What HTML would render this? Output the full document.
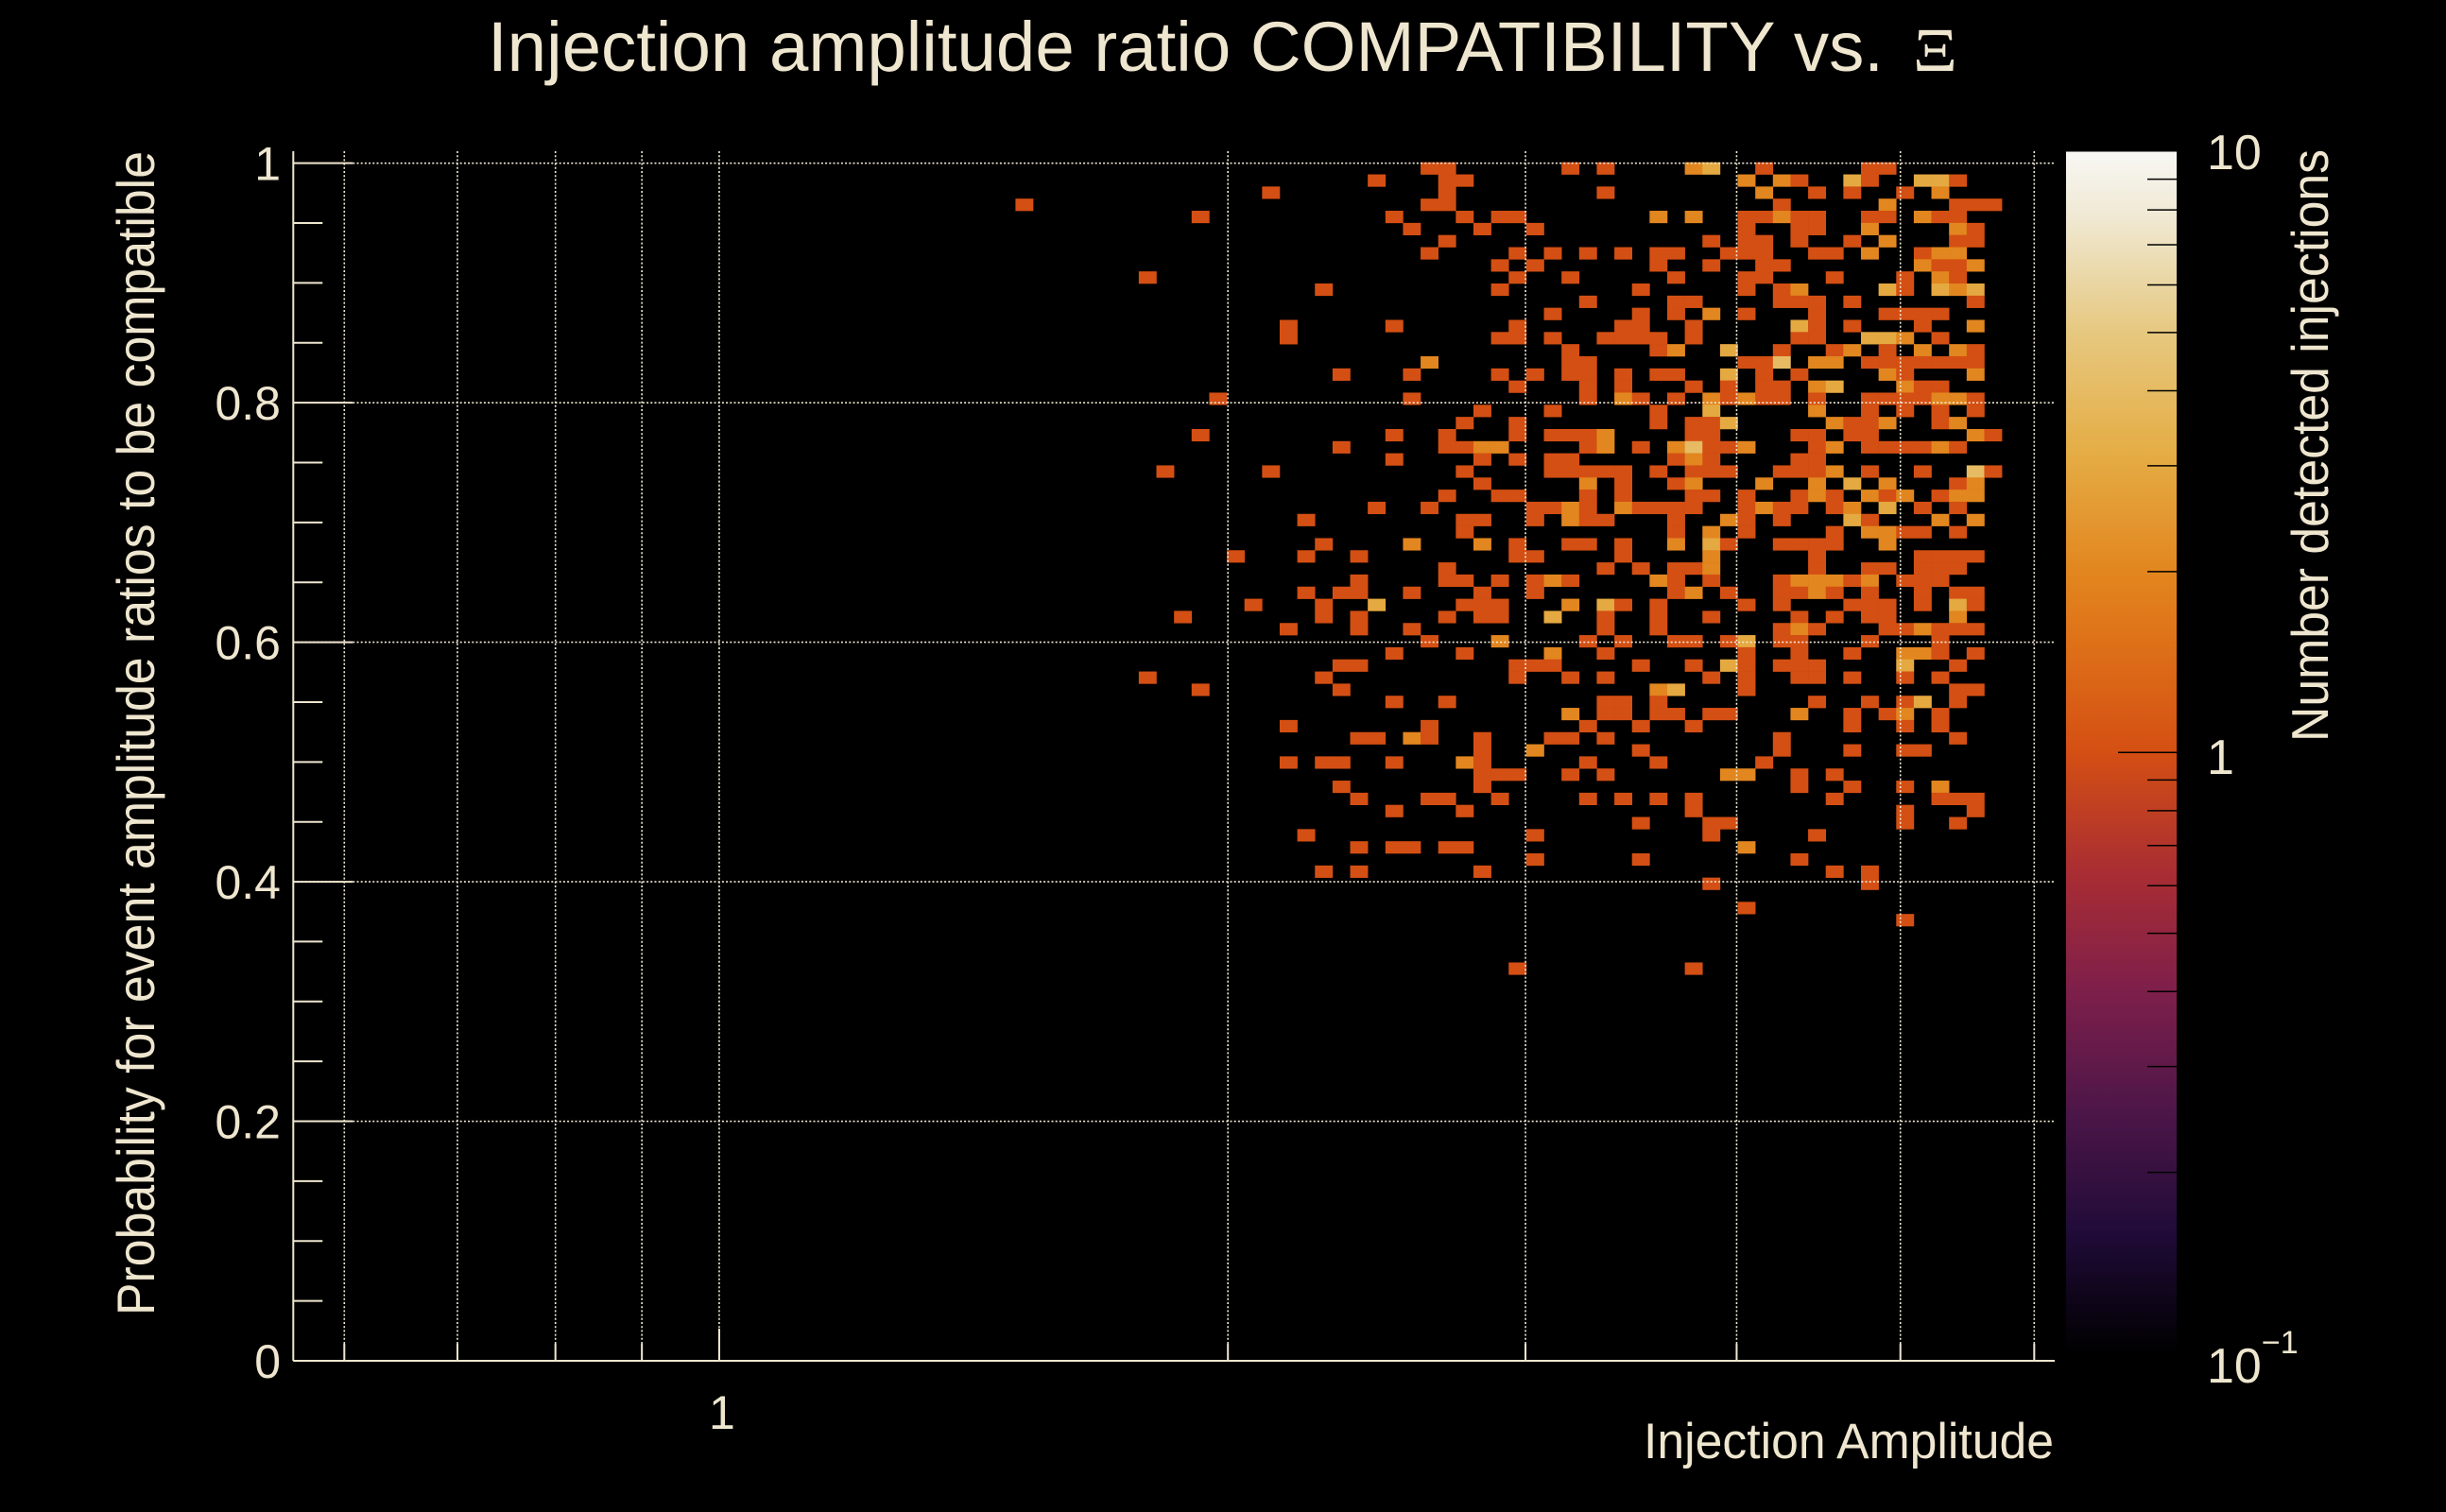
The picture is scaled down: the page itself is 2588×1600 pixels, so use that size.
<!DOCTYPE html>
<html><head><meta charset="utf-8"><title>Injection amplitude ratio COMPATIBILITY</title>
<style>
html,body{margin:0;padding:0;background:#000;}
svg{display:block;}
text{font-family:"Liberation Sans",sans-serif;fill:#efe6cf;}
</style></head>
<body>
<svg id="chart" xmlns="http://www.w3.org/2000/svg" width="2588" height="1600" viewBox="0 0 2588 1600">
<defs>
<linearGradient id="pal" x1="0" y1="1" x2="0" y2="0">
<stop offset="0" stop-color="#000000"/>
<stop offset="0.1" stop-color="#200b38"/>
<stop offset="0.2" stop-color="#4c1648"/>
<stop offset="0.3" stop-color="#7d1f4b"/>
<stop offset="0.4" stop-color="#a92d33"/>
<stop offset="0.5" stop-color="#d44f13"/>
<stop offset="0.6" stop-color="#df7419"/>
<stop offset="0.65" stop-color="#e2861f"/>
<stop offset="0.75" stop-color="#e5ad45"/>
<stop offset="0.85" stop-color="#e6c880"/>
<stop offset="0.95" stop-color="#f0ead6"/>
<stop offset="1" stop-color="#f8f7f4"/>
</linearGradient>
</defs>
<rect x="0" y="0" width="2588" height="1600" fill="#000"/>
<g id="cells"></g>
<g id="grid"></g>
<g id="axes"></g>
<g id="cbar"></g>

<text x="516" y="75" font-size="74" textLength="1477" lengthAdjust="spacingAndGlyphs">Injection amplitude ratio COMPATIBILITY vs.</text>
<text x="2024" y="75" font-size="66" style="font-family:'Liberation Serif',serif" textLength="47" lengthAdjust="spacingAndGlyphs">Ξ</text>
<text x="2173" y="1543" font-size="53" text-anchor="end" textLength="434" lengthAdjust="spacingAndGlyphs">Injection Amplitude</text>
<text transform="translate(163,160) rotate(-90)" x="0" y="0" font-size="56" text-anchor="end" textLength="1232" lengthAdjust="spacingAndGlyphs">Probability for event amplitude ratios to be compatible</text>
<text transform="translate(2463,158) rotate(-90)" x="0" y="0" font-size="55" text-anchor="end" textLength="627" lengthAdjust="spacingAndGlyphs">Number detected injections</text>
</svg>
<script>
// ---- data: one entry per row of bins (row 0 = top, probability ~1.0) ----
const binCol = [
[64,65,72,74,79,80,83,89,90],
[61,65,66,82,84,85,88,89,92,93,94],
[55,65,74,83,86,88,91,93],
[41,64,65,84,90,94,95,96],
[51,62,66,68,69,77,79,82,83,84,85,86,89,90,92,93,94],
[63,67,70,82,85,86,89,94,95],
[65,80,82,83,85,88,90,94,95],
[64,69,71,73,75,77,78,81,82,83,86,87,89,92,93,94],
[68,70,77,80,83,84,92,93,94,95],
[48,69,72,78,82,83,87,91,93,94],
[58,68,76,82,84,85,90,91,93,94,95],
[73,78,79,84,85,86,88,95],
[71,76,78,80,82,86,90,91,92,93],
[56,62,69,75,76,79,85,86,88,92,95],
[56,68,69,71,74,75,76,77,79,85,86,89,90,91,93],
[72,77,78,81,84,87,88,90,92,94,95],
[64,72,73,82,83,84,86,87,89,90,91,92,93,94,95],
[59,63,68,70,72,73,75,77,78,81,83,85,90,91,95],
[69,73,75,79,81,83,84,86,87,91,92,93],
[52,63,73,75,76,78,80,81,82,83,84,86,89,90,91,92,93,94,95],
[67,71,77,80,86,89,91,93,95],
[66,69,77,79,80,81,87,88,89,90,93,94],
[51,62,65,69,71,72,73,74,79,80,85,86,88,89,95,96],
[59,65,66,67,68,73,74,76,78,79,80,81,82,86,87,89,90,91,92,93,94],
[62,67,69,71,72,78,79,80,85,86],
[49,55,66,71,72,73,74,75,77,79,80,81,84,85,86,87,89,92,95,96],
[67,73,75,78,79,83,86,88,90,94,95],
[65,68,69,73,75,79,80,82,85,86,87,89,90,91,93,94,95],
[61,64,70,71,72,73,75,76,77,78,79,82,83,84,85,87,88,90,92,94],
[57,66,67,70,72,73,74,78,81,82,84,88,89,93,95],
[66,78,80,82,87,89,90,91,92,94],
[58,63,67,69,72,73,75,78,80,81,84,85,86,87,90],
[53,57,60,69,70,75,80,86,92,93,94,95],
[65,74,76,78,79,80,86,89,90,92,93,94],
[60,65,66,68,70,71,72,77,78,80,84,85,86,87,88,89,91,92,93],
[57,59,60,63,67,70,78,79,81,84,85,86,87,89,92,94,95],
[54,58,61,66,67,68,72,74,75,77,82,84,88,89,90,92,94,95],
[50,58,60,65,67,68,71,74,77,80,85,87,89,90,94],
[56,60,63,74,77,84,85,86,90,91,92,93,94,95],
[64,68,73,75,78,79,81,82,84,85,89,93],
[62,66,71,74,82,85,88,91,92,93,95],
[59,60,69,70,71,76,79,81,82,84,85,86,91,94],
[48,58,69,72,74,80,82,85,86,88,91,93],
[51,59,77,78,82,94,95],
[62,65,74,75,77,86,89,91,92,94],
[72,74,75,77,78,80,81,85,88,90,91,93],
[56,64,73,76,79,88,91,93],
[60,61,63,64,67,71,72,74,84,94],
[67,70,76,84,88,91,92],
[56,58,59,62,66,67,73,77,83],
[67,68,69,72,74,81,82,85,87],
[59,67,85,88,91,93],
[60,64,65,68,73,75,77,79,87,93,94,95],
[62,66,79,91,95],
[76,80,81,91,94],
[57,70,80,86],
[60,62,63,65,66,82],
[70,76,85],
[58,60,67,87,89],
[80,89],
[],
[82],
[91],
[],[],[],
[69,79]
];
const binCount = [
[1,1,1,1,2,3,1,1,1],
[1,1,1,2,2,1,3,1,3,3,1],
[1,1,1,2,1,1,1,2],
[1,1,1,1,2,1,1,1],
[1,1,1,1,1,2,2,1,1,2,1,1,1,1,2,1,1],
[1,1,1,1,1,1,2,2,1],
[1,1,1,1,1,1,2,1,1],
[1,1,1,1,1,1,1,1,1,1,1,1,2,1,2,2],
[1,1,1,1,1,1,2,1,1,2],
[1,1,1,1,1,1,1,1,2,1],
[1,1,1,1,1,2,3,1,3,2,3],
[1,1,1,1,1,1,1,1],
[1,1,1,2,1,1,1,1,1,1],
[1,1,1,1,1,1,3,1,1,1,2],
[1,1,1,1,1,1,1,1,1,1,1,3,3,2,1],
[1,1,2,3,1,1,2,1,2,2,1],
[2,1,1,1,1,4,2,2,1,1,1,1,1,1,1],
[1,1,1,1,1,1,1,1,1,3,1,1,2,1,2],
[1,1,1,1,1,1,1,2,3,2,1,1],
[1,1,1,2,1,1,2,1,2,1,1,1,1,1,1,1,2,2,1],
[1,1,1,3,2,1,1,1,1],
[1,1,1,1,1,3,2,1,1,2,1,2],
[1,1,1,1,1,1,1,2,1,1,1,1,1,1,2,1],
[1,1,1,2,2,1,2,1,2,4,1,1,2,1,2,1,1,1,1,2,1],
[1,1,1,1,1,1,2,1,1,1],
[1,1,1,1,1,1,1,1,1,1,1,1,1,1,1,2,1,1,4,1],
[1,2,1,1,2,2,2,3,2,1,2],
[1,1,1,1,1,1,1,1,1,2,1,2,1,2,1,2,2],
[1,1,1,1,2,1,2,1,1,1,1,1,2,1,1,1,2,3,1,1],
[1,1,1,1,2,1,1,1,2,1,1,3,1,2,2],
[1,1,2,1,1,2,2,1,1,1],
[1,2,2,1,1,1,1,2,3,1,1,1,1,1,2],
[1,1,1,1,1,1,2,1,1,1,1,1],
[1,1,1,1,1,2,1,1,1,1,1,1],
[1,1,1,1,1,2,1,2,1,1,1,2,2,2,1,2,1,1,1],
[1,1,1,1,1,1,1,2,1,1,1,2,1,1,1,1,1],
[1,1,3,1,1,1,2,3,1,1,1,1,1,1,1,1,3,1],
[1,1,1,1,1,1,3,1,1,1,1,1,1,1,2],
[1,1,1,1,1,1,2,1,1,1,2,1,1,1],
[1,2,1,1,1,1,1,3,1,1,1,1],
[1,1,2,1,1,1,1,2,2,1,1],
[1,1,1,1,1,1,1,3,1,1,1,1,3,1],
[1,1,1,1,1,1,1,1,1,1,1,1],
[1,1,2,3,1,1,1],
[1,1,1,1,1,1,1,1,3,1],
[2,1,1,1,1,1,1,2,1,1,2,1],
[1,1,1,1,1,1,1,1],
[1,1,2,1,1,1,1,1,1,1],
[1,2,1,1,1,1,1],
[1,1,1,1,2,1,1,1,1],
[1,1,1,1,1,2,2,1,1],
[1,1,1,1,1,2],
[1,1,1,1,1,1,1,1,1,1,1,1],
[1,1,1,1,1],
[1,1,1,1,1],
[1,1,1,1],
[1,1,1,1,1,2],
[1,1,1],
[1,1,1,1,1],
[1,1],
[],
[1],
[1],
[],[],[],
[1,1]
];
const xGridValues = [0.6,0.7,0.8,0.9,1,2,3,4,5,6];
const xTickLabels = ["1"];
const xTickLabelValues = [1];
const yTickValues = [0,0.2,0.4,0.6,0.8,1];
const yTickLabels = ["0","0.2","0.4","0.6","0.8","1"];
const zMajorValues = [0.1,1,10];
const zMinorValues = [0.2,0.3,0.4,0.5,0.6,0.7,0.8,0.9,2,3,4,5,6,7,8,9];

// ---- axis functions ----
const X_MIN = 0.5597, X_MAX = 6.17, N_XBINS = 100;
const PX_L = 310.3, PX_R = 2174;
const PY_B = 1440, PY_T = 160, Y_TOP_VAL = 1.01;
const ROW0_TOP = 171.7, ROW_H = 12.83;
const CB_X = 2186, CB_W = 117, CB_TOP = 160.5, CB_BOT = 1432;
function xScale(v){ return PX_L + (Math.log10(v)-Math.log10(X_MIN))/(Math.log10(X_MAX)-Math.log10(X_MIN))*(PX_R-PX_L); }
function xBinEdge(i){ return PX_L + i*(PX_R-PX_L)/N_XBINS; }
function yScale(v){ return PY_B - v/Y_TOP_VAL*(PY_B-PY_T); }
function rowTop(r){ return ROW0_TOP + r*ROW_H; }
function zScale(v){ return CB_BOT - (Math.log10(v)+1)/2*(CB_BOT-CB_TOP); }

const palStops = [[0,[0,0,0]],[0.1,[32,11,56]],[0.2,[76,22,72]],[0.3,[125,31,75]],[0.4,[169,45,51]],[0.5,[212,79,19]],[0.6,[223,116,25]],[0.65,[226,134,31]],[0.75,[229,173,69]],[0.85,[230,200,128]],[0.95,[240,234,214]],[1,[248,247,244]]];
function palette(c){
  const t = Math.max(0,Math.min(1,(Math.log10(c)+1)/2));
  for(let k=1;k<palStops.length;k++){
    if(t<=palStops[k][0]){
      const a=palStops[k-1],b=palStops[k],f=(t-a[0])/(b[0]-a[0]);
      const col=a[1].map((q,j)=>Math.round(q+(b[1][j]-q)*f));
      return 'rgb('+col.join(',')+')';
    }
  }
  return 'rgb(248,247,244)';
}

const NS='http://www.w3.org/2000/svg';
function mk(tag,attrs,parent){ const e=document.createElementNS(NS,tag); for(const k in attrs) e.setAttribute(k,attrs[k]); parent.appendChild(e); return e; }

// cells
const gCells=document.getElementById('cells');
binCol.forEach((cols,r)=>{
  cols.forEach((c,k)=>{
    const x0=xBinEdge(c), x1=xBinEdge(c+1);
    const el=mk('rect',{x:x0.toFixed(2),y:rowTop(r).toFixed(2),width:(x1-x0+0.3).toFixed(2),height:(ROW_H+0.3).toFixed(2),fill:palette(binCount[r][k])},gCells);
    
    
  });
});

// grid
const gGrid=document.getElementById('grid');
xGridValues.forEach(v=>{
  const x=xScale(v);
  const el=mk('line',{x1:x,x2:x,y1:PY_T,y2:PY_B,stroke:'#f2ead6','stroke-width':1.6,'stroke-dasharray':'2 2.2'},gGrid);
  
  
});
yTickValues.forEach(v=>{
  if(v===0) return;
  const y=yScale(v);
  const el=mk('line',{x1:PX_L,x2:PX_R,y1:y,y2:y,stroke:'#f2ead6','stroke-width':1.6,'stroke-dasharray':'2 2.2'},gGrid);
  
  
});

// axes
const gAx=document.getElementById('axes');
const AX='#efe6cf';
let el=mk('line',{x1:PX_L,x2:PX_L,y1:PY_T,y2:PY_B,stroke:AX,'stroke-width':2},gAx);


el=mk('line',{x1:PX_L,x2:PX_R,y1:PY_B,y2:PY_B,stroke:AX,'stroke-width':2},gAx);


for(let k=0;k<=20;k++){
  const v=k*0.05, y=yScale(v), len=(k%4===0)?63:31;
  el=mk('line',{x1:PX_L,x2:PX_L+len,y1:y,y2:y,stroke:AX,'stroke-width':2},gAx);
  
  
}
yTickValues.forEach((v,i)=>{
  const t=mk('text',{x:297,y:yScale(v)+18,'font-size':50,'text-anchor':'end'},gAx);
  t.textContent=yTickLabels[i];
  
  
});
xGridValues.forEach(v=>{
  const x=xScale(v), len=(v===1)?34:18;
  el=mk('line',{x1:x,x2:x,y1:PY_B,y2:PY_B-len,stroke:AX,'stroke-width':2},gAx);
  
  
});
xTickLabelValues.forEach((v,i)=>{
  const t=mk('text',{x:xScale(v)+3,y:1512,'font-size':50,'text-anchor':'middle'},gAx);
  t.textContent=xTickLabels[i];
  
  
});

// colour bar
const gCb=document.getElementById('cbar');
el=mk('rect',{x:CB_X,y:CB_TOP,width:CB_W,height:CB_BOT-CB_TOP,fill:'url(#pal)'},gCb);


zMinorValues.forEach(v=>{
  const y=zScale(v);
  const l=mk('line',{x1:CB_X+CB_W-31,x2:CB_X+CB_W,y1:y,y2:y,stroke:'#000','stroke-width':1.5},gCb);
  
  
});
{
  const y=zScale(1);
  const l=mk('line',{x1:CB_X+CB_W-62,x2:CB_X+CB_W,y1:y,y2:y,stroke:'#000','stroke-width':1.5},gCb);
  
  
}
zMajorValues.forEach(v=>{
  const y=zScale(v);
  const t=mk('text',{x:2335,y:(v===10)?179:(v===1?819:1463),'font-size':52},gCb);
  
  
  if(v===0.1){
    t.textContent='10';
    const s=mk('tspan',{dy:-31,'font-size':34},t);
    s.textContent='\u22121';
  } else {
    t.textContent=String(v);
  }
});
</script>
</body></html>
